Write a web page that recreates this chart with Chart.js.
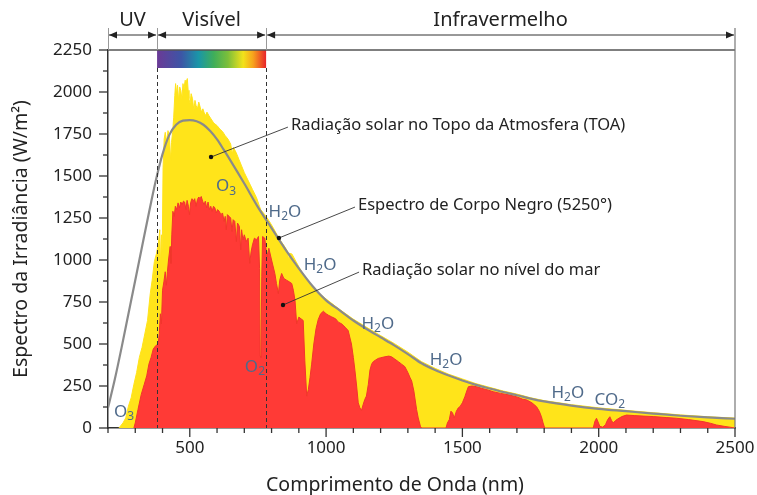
<!DOCTYPE html>
<html lang="pt">
<head>
<meta charset="utf-8">
<title>Espectro da radiação solar</title>
<script src="https://cdn.jsdelivr.net/npm/chart.js@4.4.1/dist/chart.umd.min.js"></script>
<style>
  html, body { margin: 0; padding: 0; background: #fff; }
  #wrap { width: 757px; height: 495px; }
</style>
</head>
<body>
<div id="wrap"><canvas id="chart" width="757" height="495"></canvas></div>
<script>
// ---- dados (nm, W/m2/um) ----

// espectro de corpo negro (linha cinza)
const bbWave  = [200, 225, 250, 275, 300, 325, 350, 375, 400, 425, 450, 475, 500, 525, 550, 575, 600, 625, 650, 700, 750, 800, 850, 900, 950, 1000, 1050, 1100, 1150, 1200, 1250, 1300, 1350, 1400, 1450, 1500, 1550, 1600, 1650, 1700, 1750, 1800, 1900, 2000, 2100, 2200, 2300, 2400, 2500];
const bbValue = [120, 290, 480, 680, 880, 1080, 1280, 1470, 1630, 1745, 1805, 1830, 1833, 1826, 1805, 1768, 1718, 1655, 1590, 1455, 1315, 1190, 1065, 950, 845, 760, 700, 640, 588, 540, 492, 440, 385, 345, 312, 283, 257, 235, 214, 195, 175, 158, 133, 114, 100, 86, 73, 63, 55];

// topo da atmosfera (amarelo)
const toaWave  = [240, 255, 265, 275, 285, 295, 305, 315, 325, 335, 345, 355, 362, 370, 378, 385, 390, 393, 396, 399, 402, 406, 410, 415, 420, 425, 430, 433, 437, 441, 445, 448, 451, 455, 459, 463, 467, 471, 475, 479, 483, 487, 491, 494, 497, 501, 505, 510, 515, 519, 523, 528, 533, 538, 543, 548, 553, 558, 563, 570, 578, 586, 592, 600, 610, 620, 630, 640, 650, 656, 660, 670, 680, 690, 700, 715, 730, 745, 760, 775, 790, 805, 820, 835, 850, 858, 862, 866, 875, 890, 910, 930, 950, 975, 1000, 1050, 1100, 1150, 1200, 1250, 1300, 1350, 1400, 1450, 1500, 1550, 1600, 1650, 1700, 1750, 1800, 1900, 2000, 2100, 2200, 2300, 2400, 2500];
const toaValue = [0, 30, 60, 130, 180, 260, 330, 420, 480, 560, 640, 800, 880, 990, 1040, 1100, 1180, 950, 1150, 1050, 1550, 1720, 1760, 1700, 1770, 1740, 1590, 1700, 1760, 1850, 1980, 2050, 1990, 2040, 1950, 2030, 2010, 1960, 2050, 2020, 2070, 2060, 2080, 2010, 1960, 1930, 1990, 1960, 1890, 1950, 1920, 1900, 1940, 1910, 1880, 1900, 1875, 1860, 1880, 1860, 1840, 1820, 1810, 1800, 1780, 1765, 1740, 1720, 1690, 1630, 1670, 1640, 1600, 1560, 1520, 1470, 1420, 1370, 1300, 1270, 1235, 1195, 1150, 1110, 1075, 1050, 1000, 1040, 1035, 990, 930, 885, 845, 800, 768, 705, 648, 598, 550, 503, 452, 395, 355, 320, 292, 264, 242, 220, 202, 180, 163, 139, 120, 105, 91, 78, 67, 59];

// nível do mar (vermelho)
const seaWave  = [295, 300, 310, 322, 333, 342, 350, 358, 366, 375, 384, 388, 392, 396, 400, 405, 410, 414, 418, 422, 428, 431, 434, 438, 443, 447, 452, 457, 462, 467, 472, 477, 481, 486, 490, 495, 499, 503, 508, 513, 518, 523, 528, 533, 538, 542, 547, 552, 557, 562, 567, 572, 577, 582, 587, 592, 597, 602, 608, 614, 620, 626, 630, 634, 638, 644, 650, 655, 659, 665, 671, 675, 682, 687, 690, 695, 700, 707, 714, 720, 725, 730, 737, 745, 752, 756, 758, 761, 764, 767, 775, 783, 790, 800, 812, 818, 825, 830, 837, 845, 855, 865, 874, 880, 886, 892, 900, 908, 916, 922, 929, 935, 941, 947, 955, 963, 971, 980, 990, 1000, 1010, 1020, 1035, 1045, 1057, 1070, 1081, 1093, 1100, 1106, 1112, 1118, 1124, 1130, 1136, 1142, 1148, 1155, 1161, 1167, 1173, 1182, 1191, 1200, 1216, 1230, 1240, 1252, 1265, 1277, 1289, 1300, 1308, 1314, 1322, 1332, 1338, 1346, 1350, 1440, 1445, 1452, 1458, 1464, 1470, 1478, 1485, 1491, 1500, 1509, 1516, 1522, 1535, 1552, 1570, 1590, 1613, 1640, 1674, 1700, 1720, 1736, 1755, 1772, 1782, 1790, 1796, 1802, 1980, 1986, 1992, 1998, 2004, 2015, 2025, 2033, 2041, 2047, 2053, 2062, 2071, 2085, 2102, 2130, 2163, 2200, 2250, 2286, 2330, 2383, 2410, 2432, 2460, 2481, 2500];
const seaValue = [0, 30, 110, 200, 260, 310, 380, 420, 470, 490, 500, 560, 680, 620, 820, 870, 930, 850, 930, 1000, 1080, 980, 1150, 1290, 1260, 1320, 1300, 1340, 1310, 1345, 1330, 1350, 1345, 1300, 1355, 1320, 1270, 1340, 1365, 1350, 1365, 1320, 1360, 1375, 1365, 1378, 1350, 1330, 1350, 1310, 1345, 1300, 1320, 1290, 1320, 1310, 1280, 1300, 1290, 1270, 1280, 1230, 1260, 1180, 1270, 1260, 1250, 1170, 1240, 1230, 1110, 1220, 1200, 1060, 1180, 1120, 1150, 1110, 1130, 980, 1050, 1090, 1130, 1120, 1140, 950, 430, 420, 900, 1140, 1130, 1020, 1070, 1000, 920, 860, 800, 880, 920, 890, 880, 870, 860, 820, 760, 620, 660, 650, 640, 400, 190, 230, 300, 380, 500, 590, 645, 680, 695, 680, 670, 662, 650, 630, 620, 600, 580, 500, 420, 340, 250, 150, 120, 105, 140, 170, 190, 260, 345, 380, 395, 405, 414, 418, 424, 428, 424, 410, 395, 380, 365, 330, 300, 280, 220, 110, 60, 10, 0, 0, 30, 50, 100, 90, 60, 100, 120, 127, 150, 186, 220, 246, 250, 246, 236, 228, 216, 206, 196, 185, 172, 167, 150, 127, 100, 67, 30, 0, 0, 40, 58, 35, 10, 5, 20, 50, 67, 45, 30, 45, 55, 68, 77, 74, 71, 68, 62, 58, 50, 38, 28, 18, 10, 5, 0];

// eixos
const xTickLabels = [500, 1000, 1500, 2000, 2500];
const yTickLabels = [0, 250, 500, 750, 1000, 1250, 1500, 1750, 2000, 2250];
const xTitle = 'Comprimento de Onda (nm)';
const yTitle = 'Espectro da Irradiância (W/m²)';

// faixas do espectro
const bandEdges = [200, 380, 780, 2500];
const bandNames = ['UV', 'Visível', 'Infravermelho'];

// rótulos das moléculas [texto, índice, (texto), nm, valor]
const chemLabels = [
  ['O', '3', 633, 1440],
  ['H', '2', 'O', 849, 1286],
  ['H', '2', 'O', 978, 970],
  ['H', '2', 'O', 1190, 619],
  ['H', '2', 'O', 1440, 405],
  ['H', '2', 'O', 1887, 208],
  ['CO', '2', 2041, 167],
  ['O', '2', 739, 363],
  ['O', '3', 259, 95]
];

// anotações com linha de chamada [texto, nm texto, valor texto, nm ponto, valor ponto]
const callouts = [
  ['Radiação solar no Topo da Atmosfera (TOA)', 871, 1803, 578, 1613],
  ['Espectro de Corpo Negro (5250°)', 1117, 1327, 827, 1131],
  ['Radiação solar no nível do mar', 1132, 940, 842, 732]
];

function toXY(w, v) {
  return w.map((x, i) => ({ x: x, y: v[i] }));
}

const FONT = '"Noto Sans", "Open Sans", sans-serif';

// desenha ticks, faixas, barra do arco-íris e anotações
const decorPlugin = {
  id: 'decor',
  afterDatasetsDraw(chart) {
    const ctx = chart.ctx;
    const xs = chart.scales.x, ys = chart.scales.y;
    const { left, right, top, bottom } = chart.chartArea;
    const barH = 18;

    ctx.save();

    // linhas tracejadas do visível
    ctx.strokeStyle = '#333';
    ctx.lineWidth = 1;
    ctx.setLineDash([4, 3]);
    [bandEdges[1], bandEdges[2]].forEach(v => {
      const px = Math.round(xs.getPixelForValue(v)) + 0.5;
      ctx.beginPath();
      ctx.moveTo(px, top + barH);
      ctx.lineTo(px, bottom);
      ctx.stroke();
    });
    ctx.setLineDash([]);

    // barra com as cores do visível
    const x1 = xs.getPixelForValue(bandEdges[1]);
    const x2 = xs.getPixelForValue(bandEdges[2]);
    const grad = ctx.createLinearGradient(x1, 0, x2, 0);
    grad.addColorStop(0.0, '#6b3a96');
    grad.addColorStop(0.22, '#3d55a6');
    grad.addColorStop(0.38, '#1a96a8');
    grad.addColorStop(0.52, '#3fae5a');
    grad.addColorStop(0.65, '#7cbf3a');
    grad.addColorStop(0.79, '#f2e21b');
    grad.addColorStop(0.88, '#f7a31c');
    grad.addColorStop(1.0, '#e8232a');
    ctx.fillStyle = grad;
    ctx.fillRect(x1, top, x2 - x1, barH);

    // moldura superior e direita
    ctx.strokeStyle = '#555';
    ctx.lineWidth = 1.5;
    ctx.beginPath();
    ctx.moveTo(left, top);
    ctx.lineTo(right, top);
    ctx.stroke();
    ctx.strokeStyle = '#777';
    ctx.lineWidth = 1.2;
    ctx.beginPath();
    ctx.moveTo(right, top - 22);
    ctx.lineTo(right, bottom);
    ctx.stroke();

    // separadores e setas das faixas
    const arrowY = top - 15;
    ctx.strokeStyle = '#999';
    ctx.lineWidth = 1;
    bandEdges.slice(0, 3).forEach(v => {
      const px = Math.round(xs.getPixelForValue(v)) + 0.5;
      ctx.beginPath();
      ctx.moveTo(px, top - 22);
      ctx.lineTo(px, top);
      ctx.stroke();
    });
    ctx.fillStyle = '#222';
    ctx.strokeStyle = '#333';
    ctx.lineWidth = 1;
    ctx.font = '20px ' + FONT;
    ctx.textAlign = 'center';
    ctx.textBaseline = 'middle';
    for (let i = 0; i < bandNames.length; i++) {
      const a = xs.getPixelForValue(bandEdges[i]) + 1;
      const b = xs.getPixelForValue(bandEdges[i + 1]) - 1;
      ctx.beginPath();
      ctx.moveTo(a, arrowY);
      ctx.lineTo(b, arrowY);
      ctx.stroke();
      ctx.beginPath();
      ctx.moveTo(a, arrowY);
      ctx.lineTo(a + 8, arrowY - 3.5);
      ctx.lineTo(a + 8, arrowY + 3.5);
      ctx.closePath();
      ctx.fill();
      ctx.beginPath();
      ctx.moveTo(b, arrowY);
      ctx.lineTo(b - 8, arrowY - 3.5);
      ctx.lineTo(b - 8, arrowY + 3.5);
      ctx.closePath();
      ctx.fill();
      ctx.fillText(bandNames[i], (a + b) / 2, top - 30);
    }

    // ticks principais e secundários
    ctx.strokeStyle = '#333';
    ctx.lineWidth = 1.3;
    for (let v = bandEdges[0]; v <= bandEdges[3]; v += 100) {
      const px = xs.getPixelForValue(v);
      const len = v % 500 === 0 ? 9 : 5;
      ctx.beginPath();
      ctx.moveTo(px, bottom);
      ctx.lineTo(px, bottom + len);
      ctx.stroke();
    }
    for (let v = 0; v <= 2250; v += 125) {
      const py = ys.getPixelForValue(v);
      const len = v % 250 === 0 ? 9 : 5;
      ctx.beginPath();
      ctx.moveTo(left, py);
      ctx.lineTo(left - len, py);
      ctx.stroke();
    }

    // título do eixo x
    ctx.fillStyle = '#222';
    ctx.font = '19.5px ' + FONT;
    ctx.textAlign = 'center';
    ctx.textBaseline = 'middle';
    ctx.fillText(xTitle, 395, chart.height - 10);

    // anotações com linha de chamada
    ctx.font = '16.5px ' + FONT;
    ctx.textAlign = 'left';
    ctx.textBaseline = 'middle';
    callouts.forEach(c => {
      const tx = xs.getPixelForValue(c[1]);
      const ty = ys.getPixelForValue(c[2]);
      const dx = xs.getPixelForValue(c[3]);
      const dy = ys.getPixelForValue(c[4]);
      ctx.strokeStyle = '#333';
      ctx.lineWidth = 0.9;
      ctx.beginPath();
      ctx.moveTo(tx - 3, ty + 2);
      ctx.lineTo(dx, dy);
      ctx.stroke();
      ctx.fillStyle = '#111';
      ctx.beginPath();
      ctx.arc(dx, dy, 2.2, 0, Math.PI * 2);
      ctx.fill();
      ctx.fillStyle = '#222';
      ctx.fillText(c[0], tx, ty);
    });

    // moléculas com índice
    ctx.fillStyle = '#4f6a8a';
    chemLabels.forEach(l => {
      const parts = l.length === 5 ? [l[0], l[1], l[2]] : [l[0], l[1]];
      const nm = l[l.length - 2], val = l[l.length - 1];
      ctx.font = '17px ' + FONT;
      const wMain1 = ctx.measureText(parts[0]).width;
      const wMain2 = parts[2] ? ctx.measureText(parts[2]).width : 0;
      ctx.font = '12px ' + FONT;
      const wSub = ctx.measureText(parts[1]).width;
      let x = xs.getPixelForValue(nm) - (wMain1 + wSub + wMain2) / 2;
      const y = ys.getPixelForValue(val);
      ctx.textAlign = 'left';
      ctx.textBaseline = 'middle';
      ctx.font = '17px ' + FONT;
      ctx.fillText(parts[0], x, y);
      x += wMain1;
      ctx.font = '12px ' + FONT;
      ctx.fillText(parts[1], x, y + 5);
      x += wSub;
      if (parts[2]) {
        ctx.font = '17px ' + FONT;
        ctx.fillText(parts[2], x, y);
      }
    });

    ctx.restore();
  }
};

const ctx = document.getElementById('chart').getContext('2d');
new Chart(ctx, {
  type: 'line',
  data: {
    datasets: [
      {
        label: 'Espectro de Corpo Negro (5250°)',
        data: toXY(bbWave, bbValue),
        borderColor: '#8a8a8a',
        borderWidth: 2.2,
        pointRadius: 0,
        fill: false,
        cubicInterpolationMode: 'monotone',
        order: 0
      },
      {
        label: 'Radiação solar no nível do mar',
        data: toXY(seaWave, seaValue),
        borderColor: '#f2352c',
        backgroundColor: '#ff3a36',
        borderWidth: 1,
        pointRadius: 0,
        fill: 'origin',
        order: 1
      },
      {
        label: 'Radiação solar no Topo da Atmosfera (TOA)',
        data: toXY(toaWave, toaValue),
        borderColor: '#ffe31a',
        backgroundColor: '#ffe41a',
        borderWidth: 1,
        pointRadius: 0,
        fill: 'origin',
        order: 2
      }
    ]
  },
  options: {
    responsive: false,
    animation: false,
    devicePixelRatio: 1,
    layout: { padding: { top: 50, right: 22, left: 0, bottom: 0 } },
    plugins: {
      legend: { display: false },
      tooltip: { enabled: false }
    },
    scales: {
      x: {
        type: 'linear',
        min: 200,
        max: 2500,
        grid: { display: false, drawTicks: false },
        border: { display: true, color: '#333', width: 1.5 },
        afterBuildTicks: s => { s.ticks = xTickLabels.map(v => ({ value: v })); },
        afterFit: s => { s.height = 67; s.paddingLeft = 0; s.paddingRight = 0; },
        ticks: { font: { family: FONT, size: 17 }, color: '#222', padding: 10, maxRotation: 0, callback: v => String(v) }
      },
      y: {
        min: 0,
        max: 2250,
        grid: { display: false, drawTicks: false },
        border: { display: true, color: '#333', width: 1.5 },
        afterBuildTicks: s => { s.ticks = yTickLabels.map(v => ({ value: v })); },
        afterFit: s => { s.width = 108; s.paddingTop = 0; s.paddingBottom = 0; },
        ticks: { font: { family: FONT, size: 17 }, color: '#222', padding: 16, callback: v => String(v) },
        title: {
          display: true,
          text: yTitle,
          font: { family: FONT, size: 19.5 },
          color: '#222',
          padding: { top: 10, bottom: 0 }
        }
      }
    }
  },
  plugins: [decorPlugin]
});
</script>
</body>
</html>
